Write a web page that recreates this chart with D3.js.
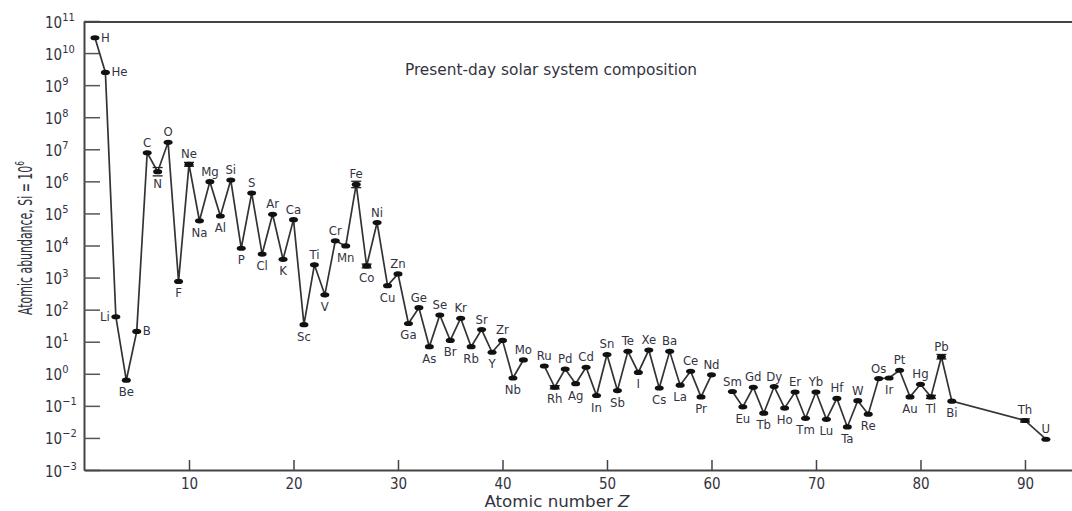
<!DOCTYPE html>
<html>
<head>
<meta charset="utf-8">
<script src="https://cdn.jsdelivr.net/npm/d3@7"></script>
<style>
  body { margin: 0; background: #fff; }
  svg text { font-family: "DejaVu Sans Condensed", Lato, sans-serif; fill: #33333f; }
</style>
</head>
<body>
<svg id="chart"></svg>
<script>
const W = 1072, H = 511;

// atomic number, symbol, abundance (Si = 1e6); null = element not plotted (gap in line)
const zs = [1,2,3,4,5,6,7,8,9,10,11,12,13,14,15,16,17,18,19,20,
  21,22,23,24,25,26,27,28,29,30,31,32,33,34,35,36,37,38,39,40,
  41,42,43,44,45,46,47,48,49,50,51,52,53,54,55,56,57,58,59,60,
  61,62,63,64,65,66,67,68,69,70,71,72,73,74,75,76,77,78,79,80,
  81,82,83,90,92];
const symbols = ["H","He","Li","Be","B","C","N","O","F","Ne","Na","Mg","Al","Si","P","S","Cl","Ar","K","Ca",
  "Sc","Ti","V","Cr","Mn","Fe","Co","Ni","Cu","Zn","Ga","Ge","As","Se","Br","Kr","Rb","Sr","Y","Zr",
  "Nb","Mo","Tc","Ru","Rh","Pd","Ag","Cd","In","Sn","Sb","Te","I","Xe","Cs","Ba","La","Ce","Pr","Nd",
  "Pm","Sm","Eu","Gd","Tb","Dy","Ho","Er","Tm","Yb","Lu","Hf","Ta","W","Re","Os","Ir","Pt","Au","Hg",
  "Tl","Pb","Bi","Th","U"];
const abundance = [3.0e10,2.5e9,60,0.63,21,7.8e6,2.0e6,1.65e7,760,3.4e6,5.9e4,9.8e5,8.3e4,1.1e6,8.2e3,4.3e5,5.4e3,9.4e4,3.7e3,6.4e4,
  34,2.5e3,290,1.4e4,9.7e3,8.0e5,2.3e3,5.2e4,560,1.3e3,37,115,7.0,68,11,54,7.0,24,4.7,11,
  0.74,2.7,null,1.75,0.38,1.4,0.49,1.6,0.21,4.0,0.30,5.0,1.1,5.5,0.36,5.0,0.44,1.2,0.19,0.93,
  null,0.28,0.093,0.38,0.059,0.40,0.085,0.27,0.041,0.27,0.038,0.17,0.022,0.145,0.055,0.71,0.74,1.29,0.19,0.47,
  0.19,3.4,0.14,0.035,0.0091];
// label side: a = above, b = below, r = right, l = left
const labelSide = ["r","r","l","b","r","a","b","a","b","a","b","a","b","a","b","a","b","a","b","a",
  "b","a","b","a","b","a","b","a","b","a","b","a","b","a","b","a","b","a","b","a",
  "b","a","-","a","b","a","b","a","b","a","b","a","b","a","b","a","b","a","b","a",
  "-","a","b","a","b","a","b","a","b","a","b","a","b","a","b","a","b","a","b","a",
  "b","a","b","a","a"];
// elements drawn with error caps, half-range in dex
const errSymbols = ["N","Ne","Fe","Co","Rh","Tl","Pb","Th"];
const errDex = [0.13,0.06,0.1,0.06,0.05,0.05,0.07,0.05];

const yDecades = [1e-3,1e-2,1e-1,1e0,1e1,1e2,1e3,1e4,1e5,1e6,1e7,1e8,1e9,1e10,1e11];
const xTicks = [10,20,30,40,50,60,70,80,90];

const data = zs.map((z,i)=>({z:z, sym:symbols[i], v:abundance[i], side:labelSide[i]}));

const svg = d3.select("#chart").attr("width",W).attr("height",H);

const x = d3.scaleLinear().domain([0,94.5]).range([84.5,W]);
const y = d3.scaleLog().domain([1e-3,1e11]).range([470,21]);

const axisColor = "#444";
const fontFam = "\"DejaVu Sans Condensed\", Lato, sans-serif";

// y axis
const gy = svg.append("g").attr("transform","translate(84,0)")
  .call(d3.axisLeft(y).tickValues(yDecades).tickSize(-16).tickSizeOuter(0).tickFormat(""));
gy.select(".domain").attr("stroke",axisColor).attr("stroke-width",2);
gy.selectAll(".tick line").attr("stroke","#555").attr("stroke-width",1.5);
gy.selectAll(".tick").append("text")
  .attr("x",-39).attr("y",6).attr("text-anchor","start")
  .style("font-size","15px").style("font-family",fontFam)
  .each(function(d){
    const t = d3.select(this);
    t.append("tspan").text("10");
    t.append("tspan").attr("dy",-7).style("font-size","11px")
      .text(String(Math.round(Math.log10(d))).replace("-","\u2212"));
  });

// x axis
const gx = svg.append("g").attr("transform","translate(0,470)")
  .call(d3.axisBottom(x).tickValues(xTicks).tickSize(-10).tickSizeOuter(0).tickPadding(8));
gx.select(".domain").attr("stroke",axisColor).attr("stroke-width",2);
gx.selectAll(".tick line").attr("stroke","#444").attr("stroke-width",1.5);
gx.selectAll(".tick text").style("font-size","15px").attr("fill","#33333f")
  .style("font-family",fontFam);

// top frame line
svg.append("line").attr("x1",84).attr("x2",W).attr("y1",22).attr("y2",22)
  .attr("stroke",axisColor).attr("stroke-width",2);

// connecting line
const line = d3.line().defined(d=>d.v!=null).x(d=>x(d.z)).y(d=>y(d.v));
svg.append("path").datum(data).attr("d",line)
  .attr("fill","none").attr("stroke","#333").attr("stroke-width",1.7);

const pts = data.filter(d=>d.v!=null);

// error caps
const errs = errSymbols.map((s,i)=>({d:data.find(e=>e.sym===s), e:errDex[i]}));
errs.forEach(o=>{
  [-1,1].forEach(k=>{
    const yy = y(o.d.v*Math.pow(10,k*o.e));
    svg.append("line").attr("x1",x(o.d.z)-5).attr("x2",x(o.d.z)+5)
      .attr("y1",yy).attr("y2",yy).attr("stroke","#222").attr("stroke-width",1.3);
  });
});

// markers
svg.append("g").selectAll("ellipse").data(pts).join("ellipse")
  .attr("cx",d=>x(d.z)).attr("cy",d=>y(d.v))
  .attr("rx",4.5).attr("ry",2.6).attr("fill","#111");

// element labels
svg.append("g").selectAll("text").data(pts).join("text")
  .style("font-size","13px")
  .attr("text-anchor",d=>d.side==="r"?"start":d.side==="l"?"end":"middle")
  .attr("x",d=>x(d.z)+(d.side==="r"?6:d.side==="l"?-6:0))
  .attr("y",d=>y(d.v)+(d.side==="a"?-6:d.side==="b"?16:4))
  .text(d=>d.sym);

// title
svg.append("text").attr("x",551).attr("y",75).attr("text-anchor","middle")
  .attr("textLength",292).attr("lengthAdjust","spacingAndGlyphs")
  .style("font-size","16px").text("Present-day solar system composition");

// axis labels
const yl = svg.append("text").attr("transform","translate(32,238) rotate(-90) scale(0.64,1)")
  .attr("text-anchor","middle").style("font-size","19px");
yl.append("tspan").text("Atomic abundance, Si = 10");
yl.append("tspan").attr("dy",-8).style("font-size","13px").text("6");

const xl = svg.append("text").attr("x",557).attr("y",507).attr("text-anchor","middle")
  .attr("textLength",145).attr("lengthAdjust","spacingAndGlyphs")
  .style("font-size","15px");
xl.append("tspan").text("Atomic number ");
xl.append("tspan").style("font-style","italic").text("Z");
</script>
</body>
</html>
